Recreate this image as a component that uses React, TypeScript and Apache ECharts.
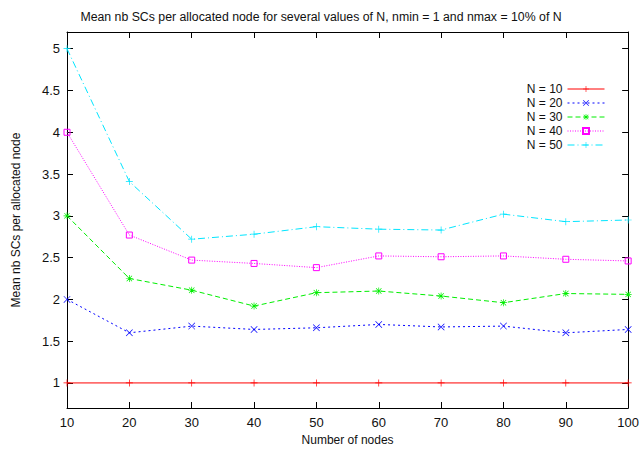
import React, { useEffect, useRef } from "react";
import * as echarts from "echarts";

const xValues = [10, 20, 30, 40, 50, 60, 70, 80, 90, 100];
const seriesNames = ["N = 10", "N = 20", "N = 30", "N = 40", "N = 50"];
const n10 = [1, 1, 1, 1, 1, 1, 1, 1, 1, 1];
const n20 = [2.0, 1.6, 1.68, 1.64, 1.66, 1.7, 1.67, 1.68, 1.6, 1.64];
const n30 = [3.0, 2.25, 2.11, 1.92, 2.08, 2.1, 2.04, 1.96, 2.07, 2.06];
const n40 = [4.0, 2.77, 2.47, 2.43, 2.38, 2.52, 2.51, 2.52, 2.48, 2.46];
const n50 = [5.0, 3.41, 2.72, 2.78, 2.87, 2.84, 2.83, 3.02, 2.93, 2.95];
const yTickValues = [1, 1.5, 2, 2.5, 3, 3.5, 4, 4.5, 5];

const titleText =
  "Mean nb SCs per allocated node for several values of N, nmin = 1 and nmax = 10% of N";

const FONT = "'Liberation Sans', Arial, sans-serif";

const PLUS = "path://M4.5,0H5.5V4.5H10V5.5H5.5V10H4.5V5.5H0V4.5H4.5Z";
const CROSS = "path://M0,0.7L0.7,0L10,9.3L9.3,10Z M9.3,0L10,0.7L0.7,10L0,9.3Z";
const STAR =
  "path://M4.5,0H5.5V4.5H10V5.5H5.5V10H4.5V5.5H0V4.5H4.5Z M0.8,1.5L1.5,0.8L9.2,8.5L8.5,9.2Z M8.5,0.8L9.2,1.5L1.5,9.2L0.8,8.5Z";

export default function App() {
  const ref = useRef<HTMLDivElement>(null);
  useEffect(() => {
    if (!ref.current) return;
    const chart = echarts.init(ref.current, undefined, { renderer: "svg" });
    const data = [n10, n20, n30, n40, n50];
    const colors = ["#ff0000", "#0000ff", "#00ee00", "#ff00ff", "#00e5ff"];
    const symbols = [PLUS, CROSS, STAR, "rect", PLUS];
    const dashes: any[] = ["solid", [2, 3], [5, 3], [1, 1.5], [7, 3, 1, 3]];
    const series = data.map((vals, i) => ({
      name: seriesNames[i],
      type: "line",
      xAxisIndex: 0,
      yAxisIndex: 0,
      data: xValues.map((x, j) => [x, vals[j]]),
      symbol: symbols[i],
      symbolSize: i === 3 ? 6 : 7,
      showAllSymbol: true,
      lineStyle: { color: colors[i], width: 1, type: dashes[i] },
      itemStyle:
        i === 3
          ? { color: "rgba(0,0,0,0)", borderColor: colors[i], borderWidth: 1 }
          : { color: colors[i], borderWidth: 0 },
      z: 2 + i,
    }));
    const axisLine = { show: true, lineStyle: { color: "#000", width: 1 } };
    const axisTick = { show: true, inside: true, length: 6, lineStyle: { color: "#000" } };
    chart.setOption({
      animation: false,
      backgroundColor: "#fff",
      title: {
        text: titleText,
        left: "center",
        top: 6,
        textStyle: { fontFamily: FONT, fontSize: 12.3, fontWeight: "normal", color: "#111" },
      },
      legend: {
        orient: "vertical",
        right: 37,
        top: 83,
        padding: 0,
        align: "right",
        itemWidth: 37,
        itemHeight: 7.5,
        itemGap: 2,
        lineStyle: { width: 1, color: "inherit" },
        data: seriesNames,
        textStyle: { fontFamily: FONT, fontSize: 12, color: "#111" },
      },
      grid: { left: 67, right: 11, top: 32, bottom: 40, containLabel: false },
      xAxis: [
        {
          type: "value",
          min: 10,
          max: 100,
          interval: 10,
          name: "Number of nodes",
          nameLocation: "middle",
          nameGap: 26,
          nameTextStyle: { fontFamily: FONT, fontSize: 12, color: "#111" },
          axisLine,
          axisTick,
          splitLine: { show: false },
          axisLabel: { fontFamily: FONT, fontSize: 13, color: "#111", margin: 8 },
        },
        {
          type: "value",
          position: "top",
          min: 10,
          max: 100,
          interval: 10,
          axisLine,
          axisTick,
          splitLine: { show: false },
          axisLabel: { show: false },
        },
      ],
      yAxis: [
        {
          type: "value",
          min: 0.7,
          max: 5.2,
          name: "Mean nb SCs per allocated node",
          nameLocation: "middle",
          nameGap: 45,
          nameTextStyle: { fontFamily: FONT, fontSize: 12, color: "#111" },
          axisLine,
          axisTick: { ...axisTick, customValues: yTickValues },
          splitLine: { show: false },
          axisLabel: {
            fontFamily: FONT,
            fontSize: 13,
            color: "#111",
            margin: 7,
            customValues: yTickValues,
            formatter: (v: number) => String(v),
          },
        },
        {
          type: "value",
          position: "right",
          min: 0.7,
          max: 5.2,
          axisLine,
          axisTick: { ...axisTick, customValues: yTickValues },
          splitLine: { show: false },
          axisLabel: { show: false, customValues: yTickValues },
        },
      ],
      series,
    });
    return () => chart.dispose();
  }, []);
  return (
    <div
      ref={ref}
      style={{ position: "fixed", left: 0, top: 0, width: 642, height: 451 }}
    />
  );
}
